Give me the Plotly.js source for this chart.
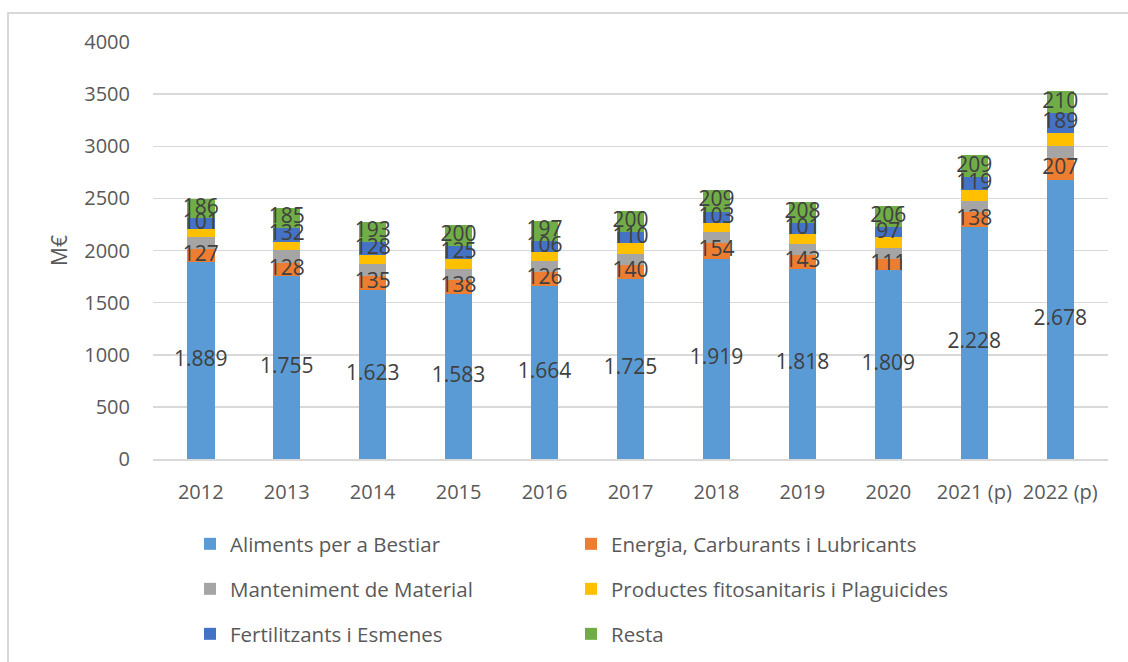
<!DOCTYPE html>
<html><head><meta charset="utf-8">
<script src="https://cdn.plot.ly/plotly-3.0.1.min.js"></script>
<style>
html,body{margin:0;padding:0;background:#fff;}
#chart{width:1128px;height:662px;}
#frame{position:absolute;left:7px;top:12px;width:1200px;height:700px;border-left:2px solid #D9D9D9;border-top:2px solid #D9D9D9;pointer-events:none;}
</style></head><body>
<div id="chart"></div><div id="frame"></div>
<script>
const years = ['2012','2013','2014','2015','2016','2017','2018','2019','2020','2021 (p)','2022 (p)'];
const aliments = [1889,1755,1623,1583,1664,1725,1919,1818,1809,2228,2678];
const energia = [127,128,135,138,126,140,154,143,111,138,207];
const manteniment = [118,124,112,105,105,103,100,105,103,110,115];
const productes = [73,79,86,93,88,102,92,95,102,108,128];
const fertilitzants = [101,132,128,125,106,110,103,101,97,119,189];
const resta = [186,185,193,200,197,200,209,208,206,209,210];

const seriesNames = ['Aliments per a Bestiar','Energia, Carburants i Lubricants','Manteniment de Material','Productes fitosanitaris i Plaguicides','Fertilitzants i Esmenes','Resta'];
const seriesColors = ['#5B9BD5','#ED7D31','#A5A5A5','#FFC000','#4472C4','#70AD47'];
const seriesLegend = ['legend','legend','legend2','legend2','legend3','legend3'];
const seriesLabelled = [true,true,false,false,true,true];
const seriesData = [aliments,energia,manteniment,productes,fertilitzants,resta];

const FONT = 'Open Sans, sans-serif';
const traces = [];
const base = years.map(() => 0);
const labelTraces = [];
seriesData.forEach((vals, i) => {
  traces.push({
    type: 'bar', name: seriesNames[i], x: years, y: vals,
    marker: {color: seriesColors[i], line: {width: 0}},
    legend: seriesLegend[i], hoverinfo: 'x+y+name'
  });
  if (seriesLabelled[i]) {
    labelTraces.push({
      type: 'scatter', mode: 'text', x: years,
      y: vals.map((v, j) => base[j] + v / 2),
      customdata: vals,
      texttemplate: '%{customdata:,.0f}',
      textposition: 'middle center',
      textfont: {family: FONT, size: 21, color: '#404040'},
      showlegend: false, hoverinfo: 'skip', cliponaxis: false
    });
  }
  vals.forEach((v, j) => { base[j] += v; });
});

const legendCommon = {
  orientation: 'h', xref: 'container', yref: 'container',
  xanchor: 'left', yanchor: 'middle',
  font: {family: FONT, size: 20.5, color: '#595959'},
  entrywidth: 336, entrywidthmode: 'pixels',
  bgcolor: 'rgba(0,0,0,0)', traceorder: 'normal'
};
const legendX = 190 / 1128;

const layout = {
  width: 1128, height: 662,
  margin: {l: 152.5, r: 19.5, t: 42, b: 202.5},
  paper_bgcolor: '#ffffff', plot_bgcolor: '#ffffff',
  separators: ',.',
  barmode: 'stack', bargap: 0.68,
  font: {family: FONT, color: '#595959'},
  xaxis: {
    type: 'category', showgrid: false, showline: true, linecolor: '#D9D9D9', linewidth: 1.5,
    ticks: '', tickfont: {family: FONT, size: 20, color: '#595959'}, ticklabelstandoff: 14,
    fixedrange: true
  },
  yaxis: {
    range: [0, 4000], dtick: 500, tick0: 0, showline: false, zeroline: false,
    gridcolor: '#D9D9D9', gridwidth: 1.5, ticks: '',
    tickfont: {family: FONT, size: 20, color: '#595959'}, ticklabelstandoff: 22,
    title: {text: 'M€', font: {family: FONT, size: 21, color: '#595959'}, standoff: 10},
    fixedrange: true
  },
  legend: Object.assign({}, legendCommon, {x: legendX, y: 1 - 544 / 662}),
  legend2: Object.assign({}, legendCommon, {x: legendX, y: 1 - 589 / 662}),
  legend3: Object.assign({}, legendCommon, {x: legendX, y: 1 - 634 / 662}),
  showlegend: true
};

Plotly.newPlot('chart', traces.concat(labelTraces), layout, {displayModeBar: false, staticPlot: true});
</script>
</body></html>
